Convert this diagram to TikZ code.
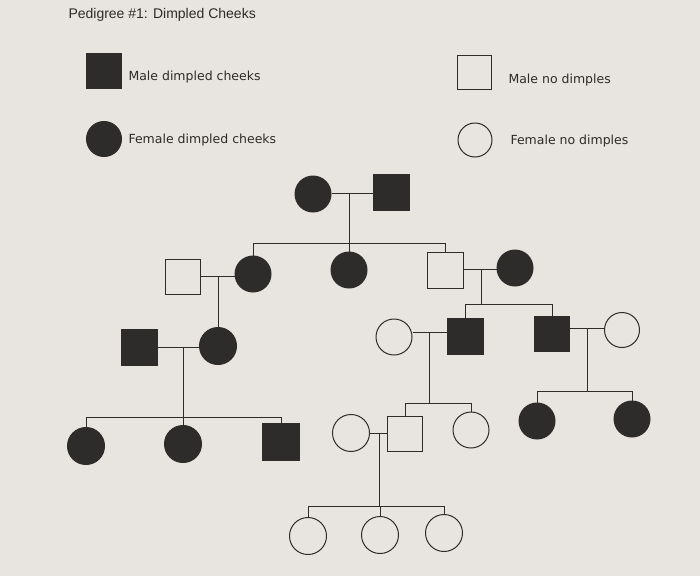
\documentclass[tikz,border=0pt]{standalone}
\usepackage{fontspec}
\setmainfont{Liberation Sans}
\newfontfamily\legendfont{DejaVu Sans}
\definecolor{paper}{HTML}{E8E4DF}
\definecolor{ink}{HTML}{2E2B2B}
\begin{document}
\begin{tikzpicture}[x=1pt,y=-1pt,
  line width=1pt,
  male/.style={rectangle,draw=ink,line width=1pt,minimum size=36pt,inner sep=0pt},
  female/.style={circle,draw=ink,line width=1pt,minimum size=36pt,inner sep=0pt},
  aff/.style={fill=ink},
  unaff/.style={fill=none},
  legtext/.style={anchor=west,inner sep=0pt,font=\legendfont\fontsize{12.5}{14}\selectfont,text=ink},
  rel/.style={draw=ink,line width=1pt}]
\fill[paper] (0,0) rectangle (700,576);
\useasboundingbox (0,0) rectangle (700,576);

% title
\node[anchor=west,inner sep=0pt,font=\fontsize{14}{16}\selectfont,text=ink] (title) at (68,15) {Pedigree \#1: Dimpled Cheeks};

% legend
\node[male,aff,minimum size=35pt] (l1) at (104,71) {};
\node[legtext] (t1) at (128,77) {Male dimpled cheeks};
\node[female,aff,minimum size=35pt] (l2) at (104,139) {};
\node[legtext] (t2) at (128,140) {Female dimpled cheeks};
\node[male,unaff,minimum size=34pt] (l3) at (474,72) {};
\node[legtext] (t3) at (508,80) {Male no dimples};
\node[female,unaff,minimum size=34pt] (l4) at (475,140) {};
\node[legtext] (t4) at (510,141) {Female no dimples};

% Generation I
\node[female,aff] (g1f) at (313,194) {};
\node[male,aff] (g1m) at (391,192) {};
% Generation II
\node[male,unaff,minimum size=35pt] (g2s) at (183,277) {};
\node[female,aff] (g2a) at (253,274) {};
\node[female,aff] (g2b) at (349,270) {};
\node[male,unaff] (g2c) at (445,270) {};
\node[female,aff] (g2d) at (515,268) {};
% Generation III
\node[male,aff] (g3b) at (139,347) {};
\node[female,aff,minimum size=37pt] (g3a) at (218,346) {};
\node[female,unaff] (g3e) at (394,337) {};
\node[male,aff] (g3c) at (465,336) {};
\node[male,aff,minimum size=35pt] (g3d) at (552,334) {};
\node[female,unaff,minimum size=35pt] (g3f) at (622,330) {};
% Generation IV
\node[female,aff,minimum size=37pt] (g4a) at (86,446) {};
\node[female,aff,minimum size=37pt] (g4b) at (183,444) {};
\node[male,aff,minimum size=37pt] (g4c) at (281,442) {};
\node[female,unaff,minimum size=37pt] (g4h) at (351,433) {};
\node[male,unaff,minimum size=35pt] (g4d) at (405,434) {};
\node[female,unaff] (g4e) at (471,430) {};
\node[female,aff] (g4f) at (537,421) {};
\node[female,aff] (g4g) at (632,419) {};
% Generation V
\node[female,unaff,minimum size=37pt] (g5a) at (308,536) {};
\node[female,unaff,minimum size=37pt] (g5b) at (380,535) {};
\node[female,unaff,minimum size=37pt] (g5c) at (444,533) {};

% couple / sibship junctions
\coordinate (m1) at (349,193);  \coordinate (s1) at (349,243);
\coordinate (m2) at (218,276);
\coordinate (m3) at (481,269);  \coordinate (s3) at (481,304);
\coordinate (m4) at (183,347);  \coordinate (s4) at (183,417);
\coordinate (m5) at (429,332);  \coordinate (s5) at (429,403);
\coordinate (m6) at (587,328);  \coordinate (s6) at (587,391);
\coordinate (m7) at (379,433);  \coordinate (s7) at (379,506);

% Generation I family
\draw[rel] (m1 -| g1f.east) -- (m1 -| g1m.west);
\draw[rel] (m1) -- (s1);
\draw[rel] (s1 -| g2a.north) -- (s1 -| g2c.north);
\draw[rel] (g2a.north) -- (s1 -| g2a.north);
\draw[rel] (g2b.north) -- (s1 -| g2b.north);
\draw[rel] (g2c.north) -- (s1 -| g2c.north);

% g2s x g2a
\draw[rel] (m2 -| g2s.east) -- (m2 -| g2a.west);
\draw[rel] (m2) -- (m2 |- g3a.north);

% g2c x g2d
\draw[rel] (m3 -| g2c.east) -- (m3 -| g2d.west);
\draw[rel] (m3) -- (s3);
\draw[rel] (s3 -| g3c.north) -- (s3 -| g3d.north);
\draw[rel] (g3c.north) -- (s3 -| g3c.north);
\draw[rel] (g3d.north) -- (s3 -| g3d.north);

% g3b x g3a
\draw[rel] (m4 -| g3b.east) -- (m4 -| g3a.west);
\draw[rel] (m4) -- (s4);
\draw[rel] (s4 -| g4a.north) -- (s4 -| g4c.north);
\draw[rel] (g4a.north) -- (s4 -| g4a.north);
\draw[rel] (g4b.north) -- (s4 -| g4b.north);
\draw[rel] (g4c.north) -- (s4 -| g4c.north);

% g3e x g3c
\draw[rel] (m5 -| g3e.east) -- (m5 -| g3c.west);
\draw[rel] (m5) -- (s5);
\draw[rel] (s5 -| g4d.north) -- (s5 -| g4e.north);
\draw[rel] (g4d.north) -- (s5 -| g4d.north);
\draw[rel] (g4e.north) -- (s5 -| g4e.north);

% g3d x g3f
\draw[rel] (m6 -| g3d.east) -- (m6 -| g3f.west);
\draw[rel] (m6) -- (s6);
\draw[rel] (s6 -| g4f.north) -- (s6 -| g4g.north);
\draw[rel] (g4f.north) -- (s6 -| g4f.north);
\draw[rel] (g4g.north) -- (s6 -| g4g.north);

% g4h x g4d
\draw[rel] (m7 -| g4h.east) -- (m7 -| g4d.west);
\draw[rel] (m7) -- (s7);
\draw[rel] (s7 -| g5a.north) -- (s7 -| g5c.north);
\draw[rel] (g5a.north) -- (s7 -| g5a.north);
\draw[rel] (g5b.north) -- (s7 -| g5b.north);
\draw[rel] (g5c.north) -- (s7 -| g5c.north);
\end{tikzpicture}
\end{document}
